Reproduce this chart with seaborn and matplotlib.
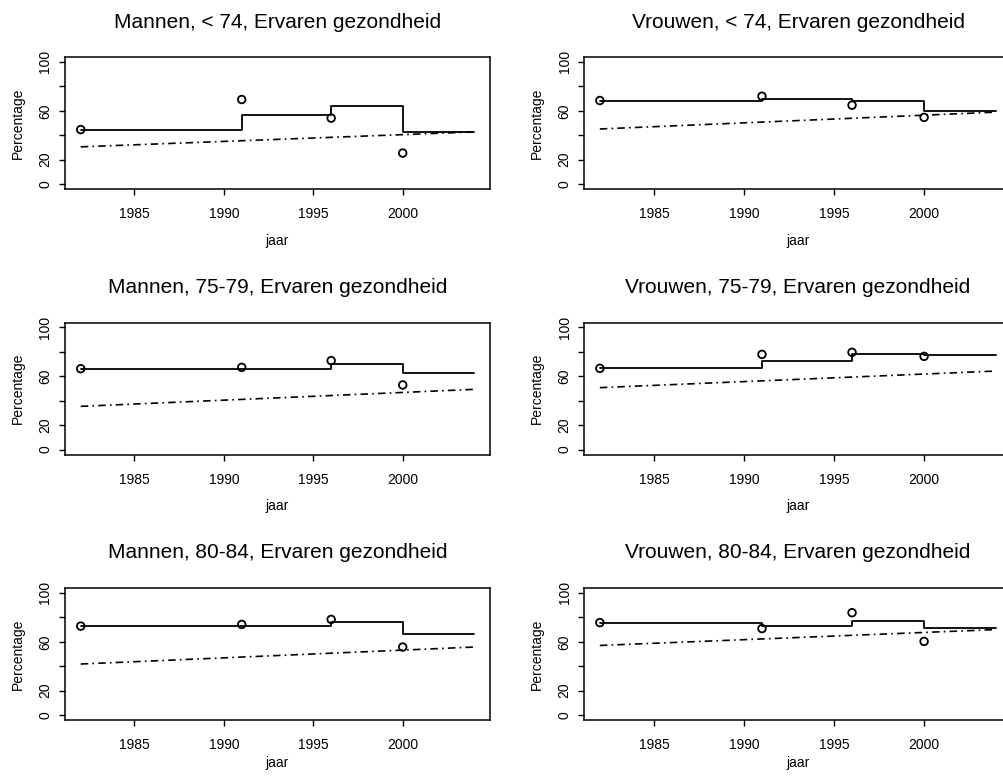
import matplotlib
matplotlib.use("Agg")
import matplotlib.pyplot as plt
import seaborn as sns
import pandas as pd

# ---- data ----
survey_years = [1982, 1991, 1996, 2000]
step_years = [1982, 1991, 1996, 2000, 2004]
trend_years = [1982, 2004]

titles = [
    "Mannen, < 74, Ervaren gezondheid",
    "Vrouwen, < 74, Ervaren gezondheid",
    "Mannen, 75-79, Ervaren gezondheid",
    "Vrouwen, 75-79, Ervaren gezondheid",
    "Mannen, 80-84, Ervaren gezondheid",
    "Vrouwen, 80-84, Ervaren gezondheid",
]

obs_m74 = [44.6, 69.2, 54.0, 25.4]
fit_m74 = [44.6, 56.8, 64.3, 42.7]
trend_m74 = [30.5, 42.7]

obs_v74 = [68.4, 71.9, 64.6, 54.6]
fit_v74 = [68.4, 70.0, 67.6, 59.5]
trend_v74 = [45.1, 58.9]

obs_m7579 = [66.2, 67.3, 72.8, 52.9]
fit_m7579 = [66.2, 66.2, 69.8, 62.7]
trend_m7579 = [35.4, 49.3]

obs_v7579 = [66.5, 77.9, 79.6, 76.3]
fit_v7579 = [66.5, 72.5, 78.5, 77.6]
trend_v7579 = [50.7, 64.3]

obs_m8084 = [72.8, 74.2, 78.3, 55.7]
fit_m8084 = [72.8, 72.8, 76.4, 66.6]
trend_m8084 = [41.8, 55.7]

obs_v8084 = [75.7, 70.8, 83.8, 60.3]
fit_v8084 = [75.7, 73.2, 77.3, 71.6]
trend_v8084 = [57.0, 70.0]

x_ticks = [1985, 1990, 1995, 2000]
y_ticks = [0, 20, 40, 60, 80, 100]
y_ticklabels = ["0", "20", "", "60", "", "100"]

panels = [
    (obs_m74, fit_m74, trend_m74),
    (obs_v74, fit_v74, trend_v74),
    (obs_m7579, fit_m7579, trend_m7579),
    (obs_v7579, fit_v7579, trend_v7579),
    (obs_m8084, fit_m8084, trend_m8084),
    (obs_v8084, fit_v8084, trend_v8084),
]

# ---- style ----
sns.set_style("ticks")
plt.rcParams["font.family"] = ["Liberation Sans", "DejaVu Sans"]
plt.rcParams["axes.linewidth"] = 1.1
plt.rcParams["text.color"] = "black"
plt.rcParams["axes.labelcolor"] = "black"
plt.rcParams["xtick.color"] = "black"
plt.rcParams["ytick.color"] = "black"
plt.rcParams["axes.edgecolor"] = "black"

W, H = 1004, 779
fig = plt.figure(figsize=(W / 100, H / 100), dpi=100)

lefts = [65, 584]
widths = [425, 428]
tops = [57, 322.5, 588]
ax_h = 132
xlabel_pads = [9, 9, 3]

for i, (obs, fit, trend) in enumerate(panels):
    r, c = divmod(i, 2)
    left = lefts[c] / W
    bottom = 1 - (tops[r] + ax_h) / H
    ax = fig.add_axes([left, bottom, widths[c] / W, ax_h / H])

    step_df = pd.DataFrame({"jaar": step_years, "pct": fit + [fit[-1]]})
    sns.lineplot(data=step_df, x="jaar", y="pct", ax=ax, color="black",
                 linewidth=1.3, drawstyle="steps-post", estimator=None, sort=False)
    trend_df = pd.DataFrame({"jaar": trend_years, "pct": trend})
    sns.lineplot(data=trend_df, x="jaar", y="pct", ax=ax, color="black",
                 linewidth=1.2, dashes=False, estimator=None,
                 linestyle=(0, (4.5, 2.5, 1, 2.5)))
    obs_df = pd.DataFrame({"jaar": survey_years, "pct": obs})
    sns.scatterplot(data=obs_df, x="jaar", y="pct", ax=ax, s=30,
                    facecolor="none", edgecolor="black", linewidth=1.3,
                    marker="o", zorder=5)

    ax.set_xlim(1981.12, 2004.88)
    ax.set_ylim(-4, 104)
    ax.set_xticks(x_ticks)
    ax.set_xticklabels([str(t) for t in x_ticks], fontsize=10)
    ax.set_yticks(y_ticks)
    ax.set_yticklabels(y_ticklabels, fontsize=10, rotation=90, va="center")
    ax.tick_params(axis="both", length=4, width=1, direction="out", color="black")
    ax.tick_params(axis="x", pad=9)
    ax.tick_params(axis="y", pad=5)
    for s in ax.spines.values():
        s.set_visible(True)
        s.set_color("black")

    ax.set_xlabel("jaar", fontsize=10, labelpad=xlabel_pads[r])
    ax.set_ylabel("Percentage", fontsize=10, labelpad=10)
    ax.text(0.5, 1 + 35 / ax_h, titles[i], transform=ax.transAxes,
            ha="center", va="center", fontsize=15)

fig.savefig("out.png", dpi=100)
